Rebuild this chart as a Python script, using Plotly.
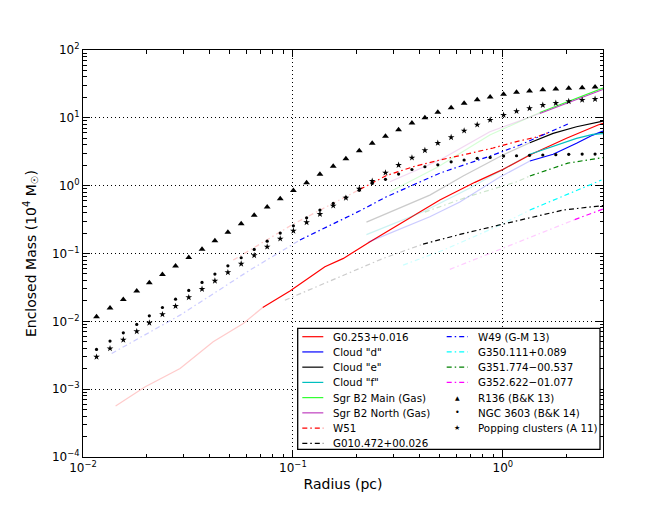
import plotly.graph_objects as go

# radius (pc) for the three star clusters, mass in 10^4 Msun
radius_clusters = [0.0116, 0.01345, 0.01556, 0.01803, 0.0207, 0.0239, 0.0276, 0.0319, 0.0369, 0.0425,
                   0.0490, 0.0567, 0.0654, 0.0754, 0.0870, 0.1005, 0.1162, 0.1345, 0.1556, 0.1788,
                   0.207, 0.2386, 0.276, 0.3186, 0.369, 0.4253, 0.490, 0.5672, 0.654, 0.755,
                   0.870, 1.008, 1.162, 1.34, 1.55, 1.788, 2.06, 2.387, 2.75]
mass_r136 = [0.01164, 0.01566, 0.0210, 0.0279, 0.0370, 0.0492, 0.0652, 0.0875, 0.116, 0.154,
             0.205, 0.274, 0.365, 0.483, 0.641, 0.847, 1.10, 1.47, 1.93, 2.49,
             3.27, 4.21, 5.34, 6.68, 8.38, 10.0, 12.05, 14.1, 16.4, 18.5,
             20.3, 22.2, 23.8, 24.8, 26.0, 26.6, 27.2, 27.8, 28.4]
mass_ngc3603 = [0.00385, 0.00511, 0.00677, 0.0090, 0.01205, 0.0160, 0.0212, 0.0286, 0.0375, 0.0497,
                0.0659, 0.0865, 0.115, 0.152, 0.200, 0.256, 0.336, 0.437, 0.548, 0.672,
                0.853, 1.08, 1.24, 1.48, 1.73, 1.90, 2.03, 2.25, 2.39, 2.53,
                2.61, 2.73, 2.76, 2.80, 2.83, 2.86, 2.90, 2.92, 2.92]
mass_popping = [0.00299, 0.00398, 0.00533, 0.0071, 0.0095, 0.01265, 0.01675, 0.0225, 0.0299, 0.0395,
                0.0526, 0.0705, 0.0938, 0.1256, 0.165, 0.216, 0.288, 0.381, 0.506, 0.66,
                0.90, 1.17, 1.55, 2.01, 2.58, 3.32, 4.25, 5.16, 6.45, 7.91,
                9.28, 11.0, 12.5, 13.8, 15.4, 16.5, 17.5, 18.3, 18.9]

# clouds: faint part (outside the fitted range) and solid part
g0253_r_faint = [0.0143, 0.0197, 0.029, 0.0417, 0.058, 0.0718]
g0253_m_faint = [0.000567, 0.00108, 0.00202, 0.00499, 0.0093, 0.0160]
g0253_r = [0.0718, 0.0968, 0.142, 0.174, 0.233, 0.348, 0.501, 0.736, 1.003, 1.345, 2.01, 2.84, 3.0]
g0253_m = [0.0160, 0.0279, 0.0637, 0.0847, 0.149, 0.311, 0.613, 1.12, 1.74, 2.83, 4.99, 7.83, 8.3]

cloud_d_r_faint = [0.2285, 0.449, 0.624, 0.968, 1.345]
cloud_d_m_faint = [0.147, 0.348, 0.573, 1.34, 2.31]
cloud_d_r = [1.345, 1.736, 2.244, 2.683, 3.0]
cloud_d_m = [2.31, 2.90, 4.21, 5.57, 6.38]

cloud_e_r_faint = [0.224, 0.449, 0.647, 1.0, 1.345]
cloud_e_m_faint = [0.290, 0.726, 1.387, 2.83, 4.29]
cloud_e_r = [1.345, 1.736, 2.244, 3.0]
cloud_e_m = [4.29, 5.91, 7.39, 8.97]

cloud_f_r_faint = [0.224, 0.417, 0.697, 1.345]
cloud_f_m_faint = [0.190, 0.412, 0.922, 2.90]
cloud_f_r = [1.345, 1.736, 2.244, 2.683, 3.0]
cloud_f_m = [2.90, 3.84, 4.99, 5.71, 5.87]

sgrb2m_r_faint = [0.290, 0.490, 0.867, 1.50]
sgrb2m_m_faint = [0.813, 1.88, 5.57, 12.0]
sgrb2m_r = [1.50, 2.13, 3.0]
sgrb2m_m = [12.0, 18.3, 27.5]

sgrb2n_r_faint = [0.290, 0.501, 0.867, 1.50]
sgrb2n_m_faint = [1.14, 2.39, 6.24, 11.6]
sgrb2n_r = [1.50, 2.13, 3.0]
sgrb2n_m = [11.6, 17.4, 26.2]

w51_r_faint = [0.0520, 0.1003, 0.2085]
w51_m_faint = [0.080, 0.2715, 0.882]
w51_r = [0.2085, 0.279, 0.374, 0.501, 0.671, 0.899, 1.162, 1.446, 1.675]
w51_m = [0.882, 1.41, 1.90, 2.39, 2.92, 3.59, 4.47, 5.21, 6.17]

g010_r_faint = [0.0916, 0.269, 0.417]
g010_m_faint = [0.0205, 0.0847, 0.1376]
g010_r = [0.417, 0.624, 1.003, 1.937, 3.0]
g010_m = [0.1376, 0.191, 0.2715, 0.437, 0.509]

w49_r_faint = [0.0137, 0.029, 0.0624, 0.108]
w49_m_faint = [0.00336, 0.01234, 0.0569, 0.158]
w49_r = [0.108, 0.2085, 0.279, 0.501, 0.899, 1.205, 2.04]
w49_m = [0.158, 0.426, 0.686, 1.53, 2.83, 3.97, 8.10]

g350_r_faint = [0.335, 0.520, 0.933, 1.345]
g350_m_faint = [0.0675, 0.112, 0.248, 0.437]
g350_r = [1.345, 2.08, 2.95]
g350_m = [0.437, 0.770, 1.21]

g351_r_faint = [0.425, 0.697, 1.162, 1.345]
g351_m_faint = [0.408, 0.703, 1.14, 1.387]
g351_r = [1.345, 2.04, 3.0]
g351_m = [1.387, 2.15, 2.60]

g352_r_faint = [0.559, 2.20]
g352_m_faint = [0.0583, 0.316]
g352_r = [2.20, 3.0]
g352_m = [0.316, 0.452]

DASHDOT = '5px,3px,1.5px,3px'

fig = go.Figure()


def add_cloud(rf, mf, r, m, color, dash):
    fig.add_trace(go.Scatter(x=rf, y=mf, mode='lines', opacity=0.2, showlegend=False,
                             line=dict(color=color, width=1.2, dash=dash), hoverinfo='skip'))
    fig.add_trace(go.Scatter(x=r, y=m, mode='lines', showlegend=False,
                             line=dict(color=color, width=1.2, dash=dash)))


add_cloud(g0253_r_faint, g0253_m_faint, g0253_r, g0253_m, '#ff0000', 'solid')
add_cloud(cloud_d_r_faint, cloud_d_m_faint, cloud_d_r, cloud_d_m, '#0000ff', 'solid')
add_cloud(cloud_e_r_faint, cloud_e_m_faint, cloud_e_r, cloud_e_m, '#000000', 'solid')
add_cloud(cloud_f_r_faint, cloud_f_m_faint, cloud_f_r, cloud_f_m, '#00bfbf', 'solid')
add_cloud(sgrb2m_r_faint, sgrb2m_m_faint, sgrb2m_r, sgrb2m_m, '#33ff33', 'solid')
add_cloud(sgrb2n_r_faint, sgrb2n_m_faint, sgrb2n_r, sgrb2n_m, '#bf3fbf', 'solid')
add_cloud(w51_r_faint, w51_m_faint, w51_r, w51_m, '#ff0000', DASHDOT)
add_cloud(g010_r_faint, g010_m_faint, g010_r, g010_m, '#000000', DASHDOT)
add_cloud(w49_r_faint, w49_m_faint, w49_r, w49_m, '#0000ff', DASHDOT)
add_cloud(g350_r_faint, g350_m_faint, g350_r, g350_m, '#00ffff', DASHDOT)
add_cloud(g351_r_faint, g351_m_faint, g351_r, g351_m, '#008000', DASHDOT)
add_cloud(g352_r_faint, g352_m_faint, g352_r, g352_m, '#ff00ff', DASHDOT)

fig.add_trace(go.Scatter(x=radius_clusters, y=mass_r136, mode='markers', showlegend=False,
                         marker=dict(symbol='triangle-up', size=6, color='black')))
fig.add_trace(go.Scatter(x=radius_clusters, y=mass_ngc3603, mode='markers', showlegend=False,
                         marker=dict(symbol='circle', size=3.2, color='black')))
fig.add_trace(go.Scatter(x=radius_clusters, y=mass_popping, mode='markers', showlegend=False,
                         marker=dict(symbol='star', size=5, color='black')))

minor_x = [k * 10 ** e for e in (-2, -1, 0) for k in range(2, 10) if k * 10 ** e < 3]
minor_y = [k * 10 ** e for e in range(-4, 2) for k in range(2, 10)]

axis_style = dict(type='log', showline=True, linecolor='black', linewidth=1, mirror='ticks',
                  ticks='inside', ticklen=7, tickcolor='black', showgrid=True, gridcolor='black',
                  griddash='1px,3px', gridwidth=0.8, zeroline=False, automargin=False,
                  minor=dict(ticks='inside', ticklen=3.5, tickcolor='black', showgrid=False))

fig.update_xaxes(**axis_style, range=[-2, 0.4771],
                 tickvals=[0.01, 0.1, 1],
                 ticktext=['10<sup>\u22122</sup>', '10<sup>\u22121</sup>', '10<sup>0</sup>'],
                 title=dict(text='Radius (pc)', standoff=4))
fig.update_xaxes(minor_tickvals=minor_x)
fig.update_yaxes(**axis_style, range=[-4, 2],
                 tickvals=[1e-4, 1e-3, 1e-2, 1e-1, 1, 10, 100],
                 ticktext=['10<sup>\u22124</sup>', '10<sup>\u22123</sup>', '10<sup>\u22122</sup>',
                           '10<sup>\u22121</sup>', '10<sup>0</sup>', '10<sup>1</sup>', '10<sup>2</sup>'],
                 title=dict(text='Enclosed Mass (10<sup>4</sup> M<sub>\u2609</sub>)', standoff=12))
fig.update_yaxes(minor_tickvals=minor_y)

# hand-placed legend (two columns inside a framed box); positions in page pixels
PLOT_L, PLOT_W, PLOT_B, PLOT_H = 83, 520, 457, 407
LEG_FONT = 10.3


def px_x(p):
    return (p - PLOT_L) / PLOT_W


def px_y(p):
    return (PLOT_B - p) / PLOT_H


legend_col1 = [('G0.253+0.016', '#ff0000', 'solid'), ('Cloud "d"', '#0000ff', 'solid'),
               ('Cloud "e"', '#000000', 'solid'), ('Cloud "f"', '#00bfbf', 'solid'),
               ('Sgr B2 Main (Gas)', '#33ff33', 'solid'), ('Sgr B2 North (Gas)', '#bf3fbf', 'solid'),
               ('W51', '#ff0000', DASHDOT), ('G010.472+00.026', '#000000', DASHDOT)]
legend_col2_lines = [('W49 (G-M 13)', '#0000ff', DASHDOT), ('G350.111+0.089', '#00ffff', DASHDOT),
                     ('G351.774\u221200.537', '#008000', DASHDOT), ('G352.622\u221201.077', '#ff00ff', DASHDOT)]
legend_col2_marks = [('R136 (B&K 13)', '\u25b2', 6), ('NGC 3603 (B&K 14)', '\u2022', 8),
                     ('Popping clusters (A 11)', '\u2605', 7)]

shapes = [dict(type='rect', xref='paper', yref='paper', x0=px_x(297.7), x1=px_x(600),
               y0=px_y(449.3), y1=px_y(328.3), line=dict(color='black', width=1.3),
               fillcolor='white', layer='above')]
annotations = []
row0, row_gap = 336.7, 15.23
for i, (label, color, dash) in enumerate(legend_col1):
    yy = px_y(row0 + i * row_gap)
    shapes.append(dict(type='line', xref='paper', yref='paper', x0=px_x(302.3), x1=px_x(323.3),
                       y0=yy, y1=yy, line=dict(color=color, width=1.2, dash=dash), layer='above'))
    annotations.append(dict(text=label, xref='paper', yref='paper', x=px_x(331.0), y=yy,
                            xanchor='left', yanchor='middle', showarrow=False, font=dict(size=LEG_FONT)))
for i, (label, color, dash) in enumerate(legend_col2_lines):
    yy = px_y(row0 + i * row_gap)
    shapes.append(dict(type='line', xref='paper', yref='paper', x0=px_x(446.7), x1=px_x(467.7),
                       y0=yy, y1=yy, line=dict(color=color, width=1.2, dash=dash), layer='above'))
    annotations.append(dict(text=label, xref='paper', yref='paper', x=px_x(476.0), y=yy,
                            xanchor='left', yanchor='middle', showarrow=False, font=dict(size=LEG_FONT)))
for j, (label, glyph, gsize) in enumerate(legend_col2_marks):
    yy = px_y(row0 + (j + 4) * row_gap)
    annotations.append(dict(text=glyph, xref='paper', yref='paper', x=px_x(457.2), y=yy,
                            xanchor='center', yanchor='middle', showarrow=False, font=dict(size=gsize)))
    annotations.append(dict(text=label, xref='paper', yref='paper', x=px_x(476.0), y=yy,
                            xanchor='left', yanchor='middle', showarrow=False, font=dict(size=LEG_FONT)))

# the page adds an 8 px body margin, so the figure is made 8 px smaller on each side
fig.update_layout(
    width=663, height=499,
    margin=dict(l=75, r=68, t=42, b=50),
    plot_bgcolor='white', paper_bgcolor='white',
    font=dict(family='DejaVu Sans', size=12, color='black'),
    showlegend=False,
    shapes=shapes,
    annotations=annotations,
)

fig.write_html("out.html")
